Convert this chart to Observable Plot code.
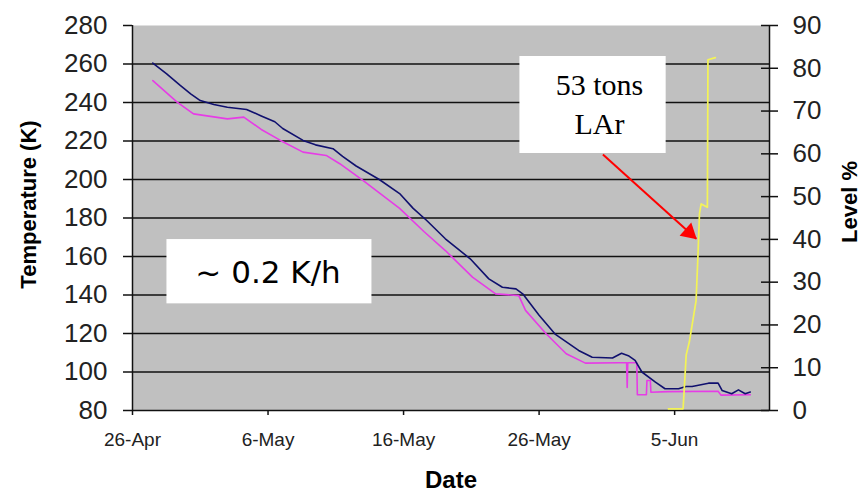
<!DOCTYPE html>
<html><head><meta charset="utf-8">
<script src="https://cdn.jsdelivr.net/npm/d3@7"></script>
<script src="https://cdn.jsdelivr.net/npm/@observablehq/plot@0.6"></script>
<style>
html,body{margin:0;padding:0;background:#fff;}
#wrap{position:relative;width:863px;height:493px;}
#wrap svg{position:absolute;left:0;top:0;}
</style></head><body><div id="wrap"></div>
<script>
// ---- data ----
const blueTimes = ["2001-04-27T12:00Z","2001-04-28T12:00Z","2001-04-29T12:00Z","2001-04-30T07:00Z","2001-05-01T00:00Z","2001-05-02T00:00Z","2001-05-03T00:00Z","2001-05-04T10:00Z","2001-05-05T12:00Z","2001-05-06T12:00Z","2001-05-07T02:00Z","2001-05-08T14:00Z","2001-05-09T12:00Z","2001-05-10T19:00Z","2001-05-11T12:00Z","2001-05-12T12:00Z","2001-05-14T05:00Z","2001-05-15T17:00Z","2001-05-16T17:00Z","2001-05-17T17:00Z","2001-05-19T02:00Z","2001-05-20T22:00Z","2001-05-22T07:00Z","2001-05-23T07:00Z","2001-05-24T07:00Z","2001-05-24T19:00Z","2001-05-26T00:00Z","2001-05-27T05:00Z","2001-05-28T22:00Z","2001-05-29T22:00Z","2001-05-31T10:00Z","2001-06-01T02:00Z","2001-06-01T14:00Z","2001-06-02T02:00Z","2001-06-02T14:00Z","2001-06-03T14:00Z","2001-06-04T07:00Z","2001-06-05T07:00Z","2001-06-05T20:00Z","2001-06-06T07:00Z","2001-06-07T12:00Z","2001-06-08T05:00Z","2001-06-08T12:00Z","2001-06-09T05:00Z","2001-06-09T17:00Z","2001-06-10T05:00Z","2001-06-10T14:00Z"];
const blueTemps = [260.5,255,249,244.5,241,239,237.5,236.4,233,230,226.5,220.3,218,216,212,207,200,192.7,185,178.7,169.2,158.8,148.4,144,143.2,140.6,129.5,119.5,111.2,107.7,107.3,109.7,108.5,106,100,94.7,91.3,91.3,92.5,92.5,94.2,94.2,90.4,88.7,90.7,88.7,89.6];

const pinkTimes = ["2001-04-27T12:00Z","2001-04-29T07:00Z","2001-04-30T12:00Z","2001-05-03T00:00Z","2001-05-04T05:00Z","2001-05-05T12:00Z","2001-05-06T22:00Z","2001-05-08T14:00Z","2001-05-10T07:00Z","2001-05-11T07:00Z","2001-05-13T00:00Z","2001-05-14T05:00Z","2001-05-15T17:00Z","2001-05-17T12:00Z","2001-05-19T02:00Z","2001-05-21T02:00Z","2001-05-22T19:00Z","2001-05-24T12:00Z","2001-05-25T00:00Z","2001-05-26T12:00Z","2001-05-28T00:00Z","2001-05-29T10:00Z","2001-05-31T22:00Z","2001-06-01T11:00Z","2001-06-01T12:00Z","2001-06-01T13:00Z","2001-06-02T05:00Z","2001-06-02T06:00Z","2001-06-02T22:00Z","2001-06-02T23:00Z","2001-06-03T05:00Z","2001-06-03T06:00Z","2001-06-04T12:00Z","2001-06-08T05:00Z","2001-06-08T10:00Z","2001-06-10T14:00Z"];
const pinkTemps = [251.4,240.2,234.1,231.5,232.4,226,220.3,214.2,212.5,208.2,199.5,193,185,173,163.1,149.3,140.6,139.7,132,120,109.5,104.6,104.8,104.8,92,104.8,104.8,88.2,88.2,95.6,95.6,89.5,89.8,90,88,88.2];

const levelTimes = ["2001-06-04T13:00Z","2001-06-05T15:00Z","2001-06-05T17:00Z","2001-06-05T20:30Z","2001-06-06T02:00Z","2001-06-06T14:00Z","2001-06-06T17:15Z","2001-06-06T20:00Z","2001-06-06T23:00Z","2001-06-07T10:00Z","2001-06-07T11:00Z","2001-06-08T00:00Z"];
const levelValues = [0.4,0.4,5,13,16,25.7,36,46,48.3,47.5,82,82.5];

const tempTicks = [80,100,120,140,160,180,200,220,240,260,280];
const gridTemps = [100,120,140,160,180,200,220,240,260];
const levelTicks = [0,10,20,30,40,50,60,70,80,90];
const dateTicks = ["2001-04-26T00:00Z","2001-05-06T00:00Z","2001-05-16T00:00Z","2001-05-26T00:00Z","2001-06-05T00:00Z"];
const xStart = "2001-04-26T00:00Z", xEnd = "2001-06-12T00:00Z";

// annotations (data coordinates)
const rateBox = [{x1:"2001-04-28T13:00Z", x2:"2001-05-13T16:00Z", y1:135.4, y2:168.8}];
const rateLabel = [{x:"2001-05-06T00:00Z", y:151.5, text:"~ 0.2 K/h"}];
const larBox = [{x1:"2001-05-24T14:00Z", x2:"2001-06-04T09:00Z", y1:213.5, y2:263.9}];
const larLabel = [{x:"2001-05-30T11:00Z", y:240.2, text:"53 tons\nLAr"}];
const larArrow = [{x1:"2001-05-30T17:00Z", y1:213, x2:"2001-06-06T14:24Z", y2:169.2}];

// ---- build ----
const D = s => new Date(s);
const blue = blueTimes.map((t,i)=>({date:D(t), v:blueTemps[i]}));
const pink = pinkTimes.map((t,i)=>({date:D(t), v:pinkTemps[i]}));
const level = levelTimes.map((t,i)=>({date:D(t), v:levelValues[i]}));
const fmt = d3.utcFormat("%-d-%b");
const W = "'Liberation Sans', Arial, sans-serif";
const common = {
  width:863, height:493, marginLeft:132, marginRight:94, marginTop:25, marginBottom:83,
  style:{fontFamily:W, background:"transparent", overflow:"visible"}
};
const xScale = {type:"utc", domain:[D(xStart), D(xEnd)]};

const p1 = Plot.plot({
  ...common,
  x:xScale,
  y:{domain:[80,280]},
  marks:[
    Plot.frame({fill:"#c0c0c0", stroke:null}),
    Plot.ruleY(gridTemps, {stroke:"#111", strokeWidth:1.5}),
    Plot.ruleY([80], {stroke:"#111", strokeWidth:1.5}),
    Plot.ruleX([D(xStart), D(xEnd)], {stroke:"#111", strokeWidth:1.5}),
    Plot.axisY({ticks:tempTicks, tickSize:9, tickPadding:16, fontSize:26, fill:"#222", stroke:"#111", strokeWidth:1.5, label:null}),
    Plot.axisX({ticks:dateTicks.map(D), tickFormat:fmt, tickSize:5, tickPadding:17, fontSize:19, fill:"#222", stroke:"#111", strokeWidth:1.5, label:null}),
    Plot.line(pink, {x:"date", y:"v", stroke:"#e63ce6", strokeWidth:1.6}),
    Plot.line(blue, {x:"date", y:"v", stroke:"#10106e", strokeWidth:1.6}),
    Plot.rect(rateBox, {x1:d=>D(d.x1), x2:d=>D(d.x2), y1:"y1", y2:"y2", fill:"white"}),
    Plot.text(rateLabel, {x:d=>D(d.x), y:"y", text:"text", fontSize:31, fontFamily:"'DejaVu Sans', sans-serif", fill:"#000"}),
    Plot.rect(larBox, {x1:d=>D(d.x1), x2:d=>D(d.x2), y1:"y1", y2:"y2", fill:"white"}),
    Plot.text(larLabel, {x:d=>D(d.x), y:"y", text:"text", fontSize:30, lineHeight:1.3, fontFamily:"'Liberation Serif', 'Times New Roman', serif", fill:"#000"}),
    Plot.link(larArrow, {x1:d=>D(d.x1), y1:"y1", x2:d=>D(d.x2), y2:"y2", stroke:"#ff0000", strokeWidth:2}),
    Plot.dot(larArrow, {x:d=>D(d.x2), y:"y2", symbol:"triangle", r:6.5, fill:"#ff0000", stroke:null, rotate:131.8, dx:-7.1, dy:-6.3}),
    Plot.text(["Temperature (K)"], {frameAnchor:"left", textAnchor:"middle", lineAnchor:"middle", rotate:-90, dx:-103.5, dy:-13.5, fontSize:22, fontWeight:"bold", fontFamily:W, fill:"#000"}),
    Plot.text(["Date"], {frameAnchor:"bottom", textAnchor:"middle", lineAnchor:"middle", dy:70, fontSize:24, fontWeight:"bold", fontFamily:W, fill:"#000"})
  ]
});

const p2 = Plot.plot({
  ...common,
  x:{...xScale, axis:null},
  y:{domain:[0,90]},
  marks:[
    Plot.line(level, {x:"date", y:"v", stroke:"#f4f455", strokeWidth:1.7}),
    Plot.axisY({anchor:"right", ticks:levelTicks, tickSize:17, dx:-9, tickFormat:()=>"", stroke:"#111", strokeWidth:1.5, label:null}),
    Plot.axisY({anchor:"right", ticks:levelTicks, tickSize:0, tickPadding:23, fontSize:26, fill:"#222", label:null}),
    Plot.text(["Level %"], {frameAnchor:"right", textAnchor:"middle", lineAnchor:"middle", rotate:-90, dx:80, dy:-16, fontSize:22, fontWeight:"bold", fontFamily:W, fill:"#000"})
  ]
});

const wrap = document.getElementById("wrap");
wrap.appendChild(p1);
wrap.appendChild(p2);
</script>
</body></html>
